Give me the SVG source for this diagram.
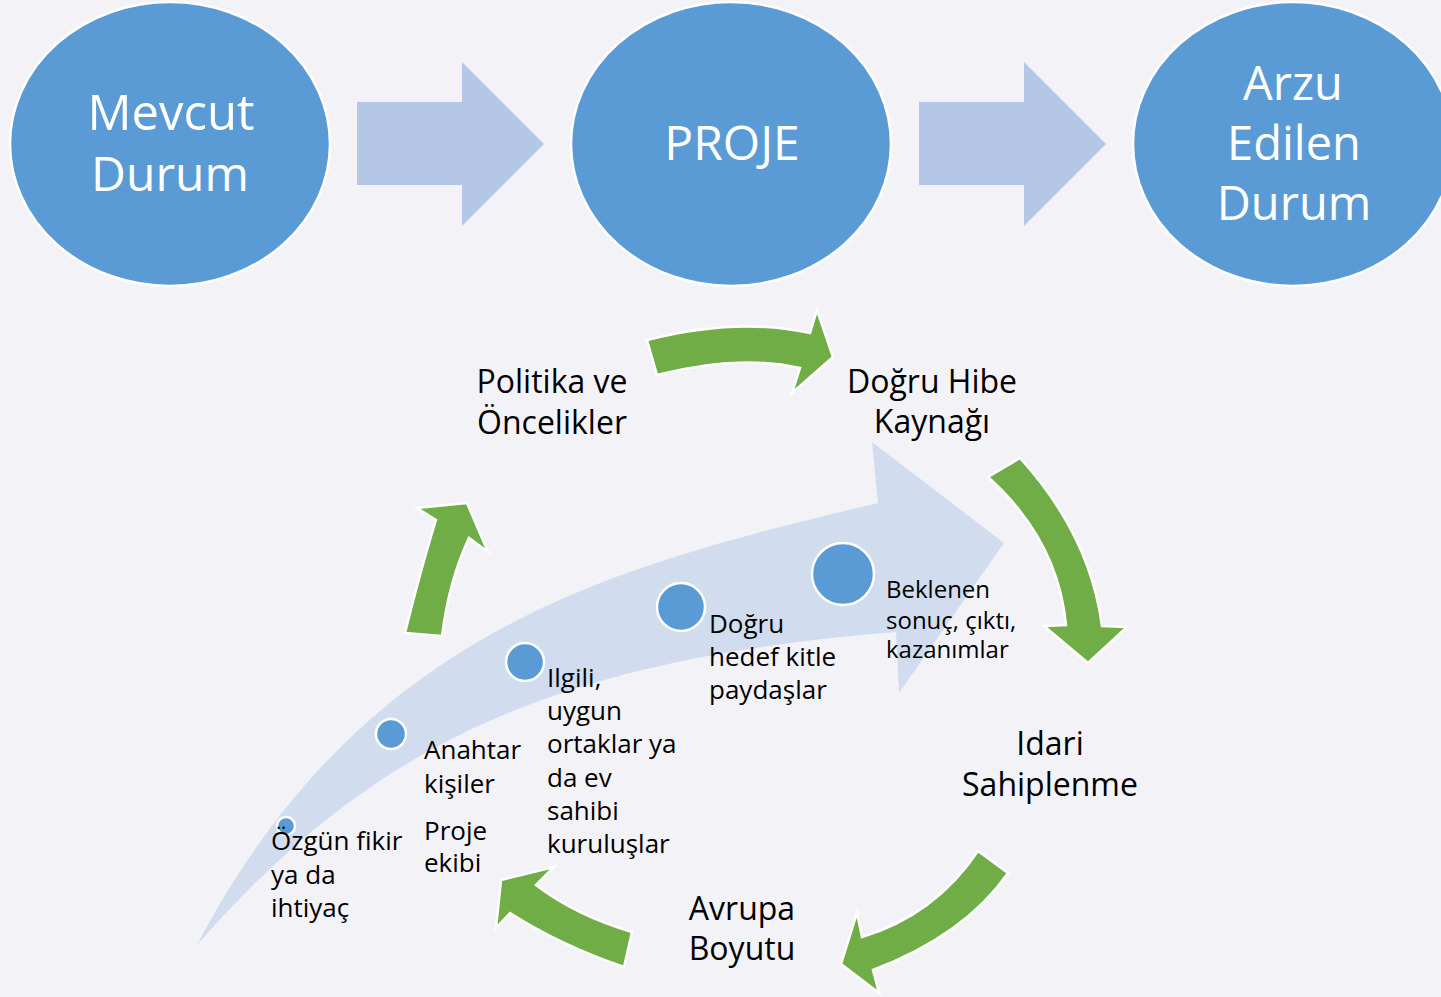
<svg xmlns="http://www.w3.org/2000/svg" width="1441" height="997" viewBox="0 0 1441 997">
<style>
.bg{fill:#F3F3F7}
.big{fill:#5B9BD5;stroke:#FFFFFF;stroke-width:2.5}
.wt{font-family:"Open Sans","Liberation Sans",sans-serif;font-size:47px;fill:#FFFFFF;text-anchor:middle}
.blk{fill:#B4C7E7}
.grn{fill:#70AD47;stroke:#FFFFFF;stroke-width:2.5;stroke-linejoin:miter}
.band{fill:#D1DDEF}
.dot{fill:#5B9BD5;stroke:#FFFFFF;stroke-width:2.5}
.lg{font-family:"Open Sans","Liberation Sans",sans-serif;font-size:32px;fill:#000000;text-anchor:middle}
.sm{font-family:"Open Sans","Liberation Sans",sans-serif;font-size:26px;fill:#000000}
.xs{font-family:"Open Sans","Liberation Sans",sans-serif;font-size:24px;fill:#000000}
</style>
<rect class="bg" x="0" y="0" width="1441" height="997"/>

<g id="band">
<path class="band" d="M197,945 C365,625 620,565 878,503 L872,442 L1004,543 L899,693 L896,632 C546,660 370,748 197,945 Z"/>
</g>

<g id="node-mevcut">
<ellipse class="big" cx="170" cy="144" rx="160" ry="142"/>
<text class="wt" x="171" y="130" style="font-size:49px">Mevcut</text>
<text class="wt" x="170" y="191" style="font-size:48px">Durum</text>
</g>
<g id="node-proje">
<ellipse class="big" cx="731" cy="144" rx="160" ry="142"/>
<text class="wt" x="732" y="160" style="font-size:48px">PROJE</text>
</g>
<g id="node-arzu">
<ellipse class="big" cx="1293" cy="144" rx="160" ry="142"/>
<text class="wt" x="1293" y="100">Arzu</text>
<text class="wt" x="1294" y="160">Edilen</text>
<text class="wt" x="1294" y="220">Durum</text>
</g>

<g id="connectors">
<path class="blk" d="M357,102 L462,102 L462,62 L544,144 L462,226 L462,185 L357,185 Z"/>
<path class="blk" d="M919,102 L1024,102 L1024,62 L1106,144 L1024,226 L1024,185 L919,185 Z"/>
<path class="grn" d="M647,340 Q737,317 810,333 L817,310 L833,357 L792,393 L800,368 Q737,354 657,375 Z"/>
<path class="grn" d="M1020,458 Q1090,535 1102,626 L1127,627 L1088,663 L1044,626 L1066,625 Q1058,540 988,477 Z"/>
<path class="grn" d="M1008,873 Q965,935 873,970 L879,993 L841,964 L857,913 L862,937 Q935,915 978,851 Z"/>
<path class="grn" d="M632,932 Q575,915 536,885 L554,867 L501,880 L496,928 L510,913 Q560,945 624,967 Z"/>
<path class="grn" d="M405,633 Q422,565 436,520 L417,508 L467,503 L488,552 L469,538 Q449,580 442,636 Z"/>
</g>

<g id="node-politika">
<text class="lg" x="552" y="393">Politika ve</text>
<text class="lg" x="552" y="434">Öncelikler</text>
</g>
<g id="node-hibe">
<text class="lg" x="932" y="393">Doğru Hibe</text>
<text class="lg" x="932" y="433">Kaynağı</text>
</g>
<g id="node-idari">
<text class="lg" x="1050" y="755">Idari</text>
<text class="lg" x="1050" y="796">Sahiplenme</text>
</g>
<g id="node-avrupa">
<text class="lg" x="742" y="920">Avrupa</text>
<text class="lg" x="742" y="960">Boyutu</text>
</g>

<g id="node-ozgun">
<circle class="dot" cx="286" cy="826" r="9"/>
<text class="sm" x="271" y="850">Özgün fikir</text>
<text class="sm" x="271" y="884">ya da</text>
<text class="sm" x="271" y="917">ihtiyaç</text>
</g>
<g id="node-anahtar">
<circle class="dot" cx="391" cy="734" r="15"/>
<text class="sm" x="424" y="759">Anahtar</text>
<text class="sm" x="424" y="793">kişiler</text>
<text class="sm" x="424" y="840">Proje</text>
<text class="sm" x="424" y="872">ekibi</text>
</g>
<g id="node-ilgili">
<circle class="dot" cx="525" cy="662" r="19"/>
<text class="sm" x="547" y="687">Ilgili,</text>
<text class="sm" x="547" y="720">uygun</text>
<text class="sm" x="547" y="753">ortaklar ya</text>
<text class="sm" x="547" y="787">da ev</text>
<text class="sm" x="547" y="820">sahibi</text>
<text class="sm" x="547" y="853">kuruluşlar</text>
</g>
<g id="node-hedef">
<circle class="dot" cx="681" cy="607" r="24"/>
<text class="sm" x="709" y="633">Doğru</text>
<text class="sm" x="709" y="666">hedef kitle</text>
<text class="sm" x="709" y="699">paydaşlar</text>
</g>
<g id="node-beklenen">
<circle class="dot" cx="843" cy="574" r="31"/>
<text class="xs" x="886" y="598">Beklenen</text>
<text class="xs" x="886" y="629">sonuç, çıktı,</text>
<text class="xs" x="886" y="658">kazanımlar</text>
</g>
</svg>
